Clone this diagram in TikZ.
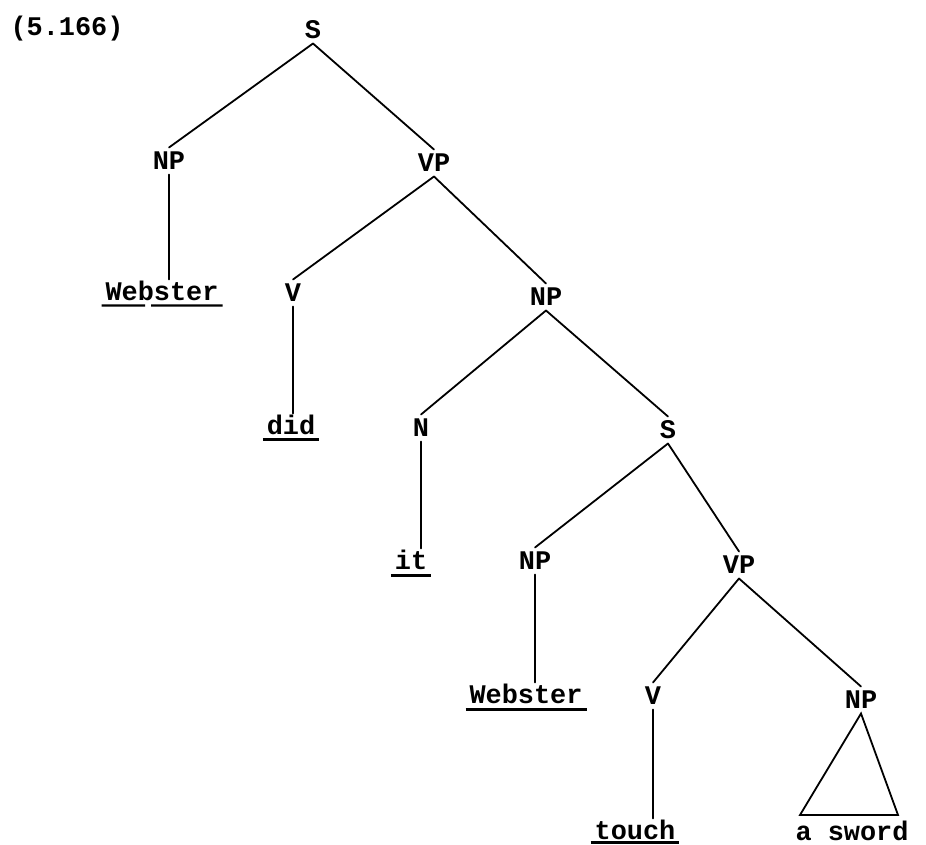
\documentclass[tikz,border=0pt]{standalone}
\usepackage{fontspec}
\setmonofont{Liberation Mono}
\usetikzlibrary{calc}
\tikzset{
  lbl/.style={font=\ttfamily\bfseries\fontsize{27}{30}\selectfont, inner sep=0pt, outer sep=5bp,
              text height=17bp, text depth=0pt, anchor=center},
  word/.style={lbl, outer sep=4bp},
  edge/.style={line width=1.8bp, line cap=round},
  ul/.style={line width=2.4bp}
}
\begin{document}
\begin{tikzpicture}[x=1bp,y=-1bp]
\useasboundingbox (0,0) rectangle (926,845);
% labels
\node[lbl] (ex) at (67,27) {(5.166)};
\node[lbl] (S1) at (313,30) {S};
\node[lbl] (NP1) at (169,161) {NP};
\node[lbl] (VP1) at (434,163) {VP};
\node[word] (W1) at (162,292) {Webster};
\node[lbl] (V1) at (293,293) {V};
\node[lbl] (NP2) at (546,297) {NP};
\node[word] (did) at (291,426) {did};
\node[lbl] (N) at (421,428) {N};
\node[lbl] (S2) at (668,430) {S};
\node[word] (it) at (411,561) {it};
\node[lbl] (NP3) at (535,561) {NP};
\node[lbl] (VP2) at (739,565) {VP};
\node[word] (W2) at (526,695) {Webster};
\node[lbl] (V2) at (653,696) {V};
\node[lbl] (NP4) at (861,700) {NP};
\node[word] (touch) at (635,831) {touch};
\node[word] (asw) at (852,832) {a sword};
\coordinate (tl) at (800,815);
\coordinate (tr) at (898,815);
% branches
\draw[edge] (S1.south) -- (NP1.north);
\draw[edge] (S1.south) -- (VP1.north);
\draw[edge] (NP1.south) -- (NP1.south |- W1.north);
\draw[edge] (VP1.south) -- (V1.north);
\draw[edge] (VP1.south) -- (NP2.north);
\draw[edge] (V1.south) -- (V1.south |- did.north);
\draw[edge] (NP2.south) -- (N.north);
\draw[edge] (NP2.south) -- (S2.north);
\draw[edge] (N.south) -- (N.south |- it.north);
\draw[edge] (S2.south) -- (NP3.north);
\draw[edge] (S2.south) -- (VP2.north);
\draw[edge] (NP3.south) -- (NP3.south |- W2.north);
\draw[edge] (VP2.south) -- (V2.north);
\draw[edge] (VP2.south) -- (NP4.north);
\draw[edge] (V2.south) -- (V2.south |- touch.north);
\draw[edge, line join=miter] (NP4.south) -- (tl) -- (tr) -- cycle;
% underlines
\draw[ul] ([yshift=-5bp]W1.base west) -- ([yshift=-5bp]$(W1.base west)!0.36!(W1.base east)$);
\draw[ul] ([yshift=-5bp]$(W1.base west)!0.41!(W1.base east)$) -- ([yshift=-5bp]W1.base east);
\draw[ul] ([yshift=-5bp]did.base west) -- ([yshift=-5bp]did.base east);
\draw[ul] ([yshift=-6bp]it.base west) -- ([yshift=-6bp]it.base east);
\draw[ul] ([yshift=-6bp]W2.base west) -- ([yshift=-6bp]W2.base east);
\draw[ul] ([yshift=-3bp]touch.base west) -- ([yshift=-3bp]touch.base east);
\end{tikzpicture}
\end{document}
